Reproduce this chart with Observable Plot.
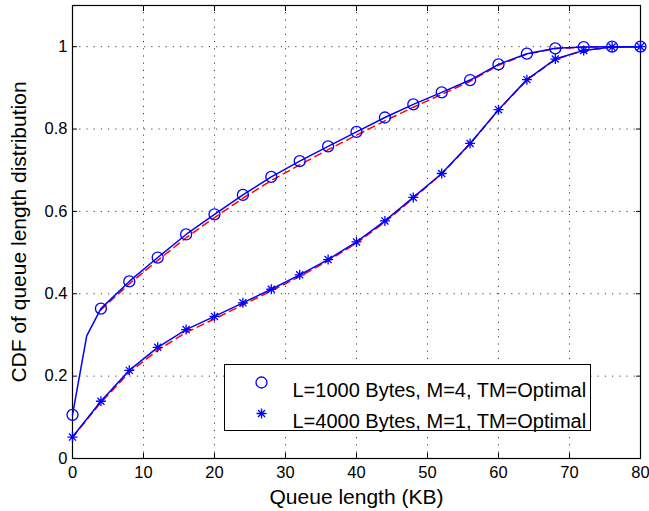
<!DOCTYPE html>
<html>
<head>
<meta charset="utf-8">
<script src="https://cdn.jsdelivr.net/npm/d3@7"></script>
<script src="https://cdn.jsdelivr.net/npm/@observablehq/plot@0.6"></script>
<style>
  html, body { margin: 0; padding: 0; background: #fff; }
  #chart { width: 649px; height: 511px; }
</style>
</head>
<body>
<div id="chart"></div>
<script>
// ---- data ----
const queueKB = [0, 4, 8, 12, 16, 20, 24, 28, 32, 36, 40, 44, 48, 52, 56, 60, 64, 68, 72, 76, 80];
// simulation, L=1000 Bytes, M=4 (circles)
const simL1000 = [0.106, 0.364, 0.430, 0.488, 0.544, 0.593, 0.640, 0.684, 0.722, 0.758, 0.793, 0.828, 0.860, 0.889, 0.919, 0.957, 0.983, 0.996, 0.999, 1, 1];
// extra point of the simulated L=1000 line (knee between markers)
const kneeKB = [2];
const kneeL1000 = [0.298];
// simulation, L=4000 Bytes, M=1 (stars)
const simL4000 = [0.052, 0.139, 0.214, 0.270, 0.313, 0.345, 0.378, 0.411, 0.446, 0.483, 0.526, 0.577, 0.634, 0.692, 0.765, 0.847, 0.920, 0.970, 0.991, 0.999, 1];
// analysis (red dashed)
const anaKB1000 = [4, 8, 12, 16, 20, 24, 28, 32, 36, 40, 44, 48, 52, 56, 60, 64, 68, 72, 76, 80];
const anaL1000 = [0.361, 0.424, 0.481, 0.536, 0.585, 0.632, 0.675, 0.713, 0.750, 0.785, 0.820, 0.853, 0.884, 0.916, 0.955, 0.982, 0.995, 0.999, 1, 1];
const anaL4000 = [0.052, 0.136, 0.209, 0.263, 0.306, 0.339, 0.373, 0.407, 0.442, 0.480, 0.523, 0.574, 0.632, 0.691, 0.764, 0.846, 0.919, 0.969, 0.991, 0.999, 1];

const xTicks = [0, 10, 20, 30, 40, 50, 60, 70, 80];
const yTicks = [0, 0.2, 0.4, 0.6, 0.8, 1];
const legendLabels = ["L=1000 Bytes, M=4, TM=Optimal", "L=4000 Bytes, M=1, TM=Optimal"];
const xLabel = "Queue length (KB)";
const yLabel = "CDF of queue length distribution";

// ---- tables ----
const simUpperLine = queueKB.map((kb, i) => ({kb, cdf: simL1000[i]}))
  .concat(kneeKB.map((kb, i) => ({kb, cdf: kneeL1000[i]})))
  .sort((a, b) => a.kb - b.kb);
const simUpperMarks = queueKB.map((kb, i) => ({kb, cdf: simL1000[i]}));
const simLower = queueKB.map((kb, i) => ({kb, cdf: simL4000[i]}));
const anaUpper = anaKB1000.map((kb, i) => ({kb, cdf: anaL1000[i]}));
const anaLower = queueKB.map((kb, i) => ({kb, cdf: anaL4000[i]}));

// MATLAB-style '*' marker (8 arms)
const star8 = {
  draw(ctx, size) {
    const r = Math.sqrt(size / Math.PI);
    const d = r / Math.SQRT2;
    ctx.moveTo(-r, 0); ctx.lineTo(r, 0);
    ctx.moveTo(0, -r); ctx.lineTo(0, r);
    ctx.moveTo(-d, -d); ctx.lineTo(d, d);
    ctx.moveTo(-d, d); ctx.lineTo(d, -d);
  }
};

const BLUE = "#0000ff", RED = "#ff0000";
const font = "'Liberation Sans', Arial, Helvetica, sans-serif";

const chart = Plot.plot({
  width: 649,
  height: 511,
  marginLeft: 72,
  marginRight: 9,
  marginTop: 5,
  marginBottom: 53,
  style: {fontFamily: font, fontSize: "17px", color: "#000", background: "#fff", overflow: "visible"},
  x: {domain: [0, 80]},
  y: {domain: [0, 1.1]},
  marks: [
    Plot.gridX(xTicks, {stroke: "#000", strokeOpacity: 0.75, strokeDasharray: "1.2,6"}),
    Plot.gridY(yTicks, {stroke: "#000", strokeOpacity: 0.75, strokeDasharray: "1.2,6"}),
    Plot.frame({stroke: "#000", strokeWidth: 1.2}),
    Plot.axisX({anchor: "bottom", ticks: xTicks, tickSize: -5, tickPadding: 13, label: null, fontSize: 16.5, tickFormat: d3.format("~g")}),
    Plot.axisX({anchor: "top", ticks: xTicks, tickSize: -5, tickFormat: () => "", label: null}),
    Plot.axisY({anchor: "left", ticks: yTicks, tickSize: -5, tickPadding: 10, label: null, fontSize: 16.5, tickFormat: d3.format("~g")}),
    Plot.axisY({anchor: "right", ticks: yTicks, tickSize: -5, tickFormat: () => "", label: null}),
    Plot.line(anaUpper, {x: "kb", y: "cdf", stroke: RED, strokeWidth: 1.5, strokeDasharray: "7,5"}),
    Plot.line(anaLower, {x: "kb", y: "cdf", stroke: RED, strokeWidth: 1.5, strokeDasharray: "7,5"}),
    Plot.line(simUpperLine, {x: "kb", y: "cdf", stroke: BLUE, strokeWidth: 1.5}),
    Plot.line(simLower, {x: "kb", y: "cdf", stroke: BLUE, strokeWidth: 1.5}),
    Plot.dot(simUpperMarks, {x: "kb", y: "cdf", r: 5.5, stroke: BLUE, fill: "none", strokeWidth: 1.3}),
    Plot.dot(simLower, {x: "kb", y: "cdf", r: 5, symbol: star8, stroke: BLUE, fill: "none", strokeWidth: 1.3}),
    // legend
    Plot.frame({insetLeft: 152, insetRight: 50, insetTop: 359, insetBottom: 28, fill: "#fff", stroke: "#000", strokeWidth: 1}),
    Plot.dot([0], {frameAnchor: "top-left", dx: 189, dy: 377, r: 5.5, stroke: BLUE, fill: "none", strokeWidth: 1.3}),
    Plot.dot([0], {frameAnchor: "top-left", dx: 189, dy: 408, r: 5, symbol: star8, stroke: BLUE, fill: "none", strokeWidth: 1.3}),
    Plot.text([legendLabels[0]], {frameAnchor: "top-left", dx: 220, dy: 377, textAnchor: "start", fontSize: 20, fill: "#000"}),
    Plot.text([legendLabels[1]], {frameAnchor: "top-left", dx: 220, dy: 408, textAnchor: "start", fontSize: 20, fill: "#000"}),
    // axis titles
    Plot.text([xLabel], {frameAnchor: "bottom", dy: 45, lineAnchor: "bottom", textAnchor: "middle", fontSize: 21, fill: "#000"}),
    Plot.text([yLabel], {frameAnchor: "left", dx: -53, rotate: -90, textAnchor: "middle", fontSize: 21, fill: "#000"})
  ]
});
document.getElementById("chart").appendChild(chart);
</script>
</body>
</html>
